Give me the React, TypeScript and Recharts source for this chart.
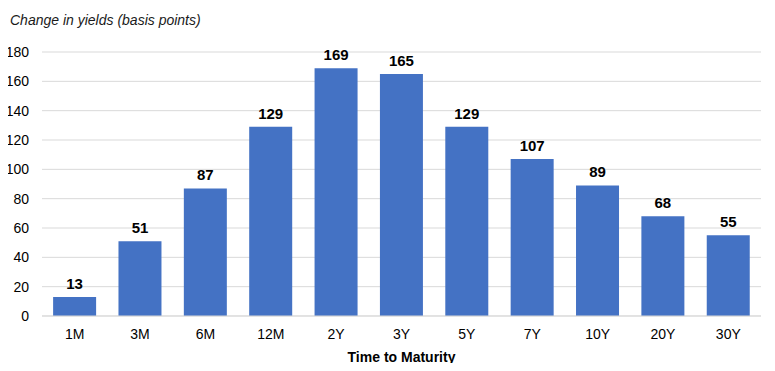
import { Bar, BarChart, CartesianGrid, LabelList, XAxis, YAxis } from "recharts";

const maturities = ["1M", "3M", "6M", "12M", "2Y", "3Y", "5Y", "7Y", "10Y", "20Y", "30Y"];
const changeBp = [13, 51, 87, 129, 169, 165, 129, 107, 89, 68, 55];
const yTicks = [0, 20, 40, 60, 80, 100, 120, 140, 160, 180];

const data = maturities.map((name, i) => ({ name, value: changeBp[i] }));

const FONT = '"Liberation Sans", Arial, sans-serif';

export default function App() {
  return (
    <div style={{ position: "relative", width: 775, height: 371, margin: -8, fontFamily: FONT, background: "#fff" }}>
      <div
        style={{
          position: "absolute",
          left: 10,
          top: 12,
          fontSize: 14,
          fontStyle: "italic",
          color: "#1a1a1a",
        }}
      >
        Change in yields (basis points)
      </div>
      <BarChart
        width={775}
        height={371}
        data={data}
        margin={{ top: 52, right: 14, bottom: 0, left: 0 }}
        barCategoryGap="17%"
      >
        <CartesianGrid vertical={false} stroke="#d9d9d9" />
        <XAxis
          dataKey="name"
          height={55}
          tickLine={false}
          axisLine={{ stroke: "#d9d9d9" }}
          tick={{ fontSize: 14, fill: "#000", fontFamily: FONT }}
          tickMargin={7}
          label={{
            value: "Time to Maturity",
            position: "insideBottom",
            offset: 9,
            fontSize: 14,
            fontWeight: "bold",
            fill: "#000",
            fontFamily: FONT,
          }}
        />
        <YAxis
          width={42}
          domain={[0, 180]}
          ticks={yTicks}
          tickLine={false}
          tickSize={0}
          tickMargin={13}
          axisLine={false}
          tick={{ fontSize: 14, fill: "#000", fontFamily: FONT }}
        />
        <Bar dataKey="value" fill="#4472c4" isAnimationActive={false}>
          <LabelList
            dataKey="value"
            position="top"
            offset={8}
            style={{ fontSize: 15, fontWeight: "bold", fill: "#000", fontFamily: FONT }}
          />
        </Bar>
      </BarChart>
    </div>
  );
}
